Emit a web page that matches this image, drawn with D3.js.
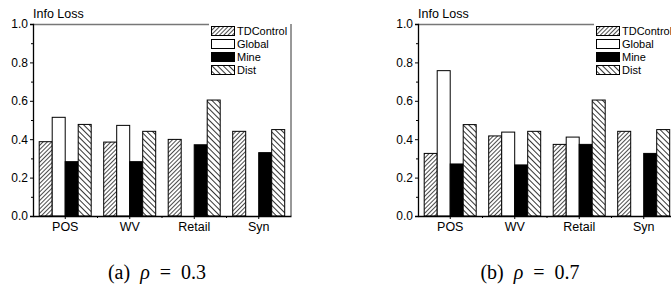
<!DOCTYPE html>
<html>
<head>
<meta charset="utf-8">
<script src="https://cdn.jsdelivr.net/npm/d3@7"></script>
<style>
  body { margin: 0; background: #fff; }
  text { font-family: "Liberation Sans", Arial, sans-serif; fill: #000; }
  .cap { font-family: "Liberation Serif", "DejaVu Serif", serif; }
</style>
</head>
<body>
<svg id="chart" width="671" height="288"></svg>
<script>
var categories = ["POS", "WV", "Retail", "Syn"];
var seriesNames = ["TDControl", "Global", "Mine", "Dist"];
var yTicks = [0.0, 0.2, 0.4, 0.6, 0.8, 1.0];

// panel (a) rho = 0.3
var tdA     = [0.387, 0.385, 0.399, 0.441];
var globalA = [0.514, 0.472, 0,     0];
var mineA   = [0.283, 0.283, 0.371, 0.330];
var distA   = [0.477, 0.441, 0.604, 0.450];

// panel (b) rho = 0.7
var tdB     = [0.326, 0.417, 0.373, 0.441];
var globalB = [0.757, 0.437, 0.411, 0];
var mineB   = [0.271, 0.266, 0.373, 0.326];
var distB   = [0.476, 0.441, 0.604, 0.450];

var svg = d3.select("#chart");

// hatch patterns
var defs = svg.append("defs");
var p1 = defs.append("pattern").attr("id", "hatchTD")
  .attr("patternUnits", "userSpaceOnUse").attr("width", 3).attr("height", 3)
  .attr("patternTransform", "rotate(45)");
p1.append("rect").attr("width", 3).attr("height", 3).attr("fill", "#fff");
p1.append("line").attr("x1", 0).attr("y1", 0).attr("x2", 0).attr("y2", 3)
  .attr("stroke", "#000").attr("stroke-width", 1.4);
var p2 = defs.append("pattern").attr("id", "hatchDist")
  .attr("patternUnits", "userSpaceOnUse").attr("width", 4).attr("height", 4)
  .attr("patternTransform", "rotate(-45)");
p2.append("rect").attr("width", 4).attr("height", 4).attr("fill", "#fff");
p2.append("line").attr("x1", 0).attr("y1", 0).attr("x2", 0).attr("y2", 4)
  .attr("stroke", "#000").attr("stroke-width", 1.6);

var fills = ["url(#hatchTD)", "#fff", "#000", "url(#hatchDist)"];

var W = 258, H = 192;

function drawPanel(left, values, tag, rho, capX) {
  var g = svg.append("g").attr("transform", "translate(" + left + ",24)");

  var x = d3.scaleBand().domain(categories).range([0, W]);
  var xs = d3.scaleBand().domain(seriesNames).range([6.2, x.bandwidth() - 6.3]);
  var y = d3.scaleLinear().domain([0, 1]).range([H, 0]);

  // frame: grey top line up to legend, black right line
  g.append("line").attr("x1", 0).attr("x2", 176).attr("y1", 0.5).attr("y2", 0.5)
    .attr("stroke", "#777").attr("stroke-width", 1.5);
  g.append("line").attr("x1", W).attr("x2", W).attr("y1", 0).attr("y2", H)
    .attr("stroke", "#333").attr("stroke-width", 1);

  // bars
  categories.forEach(function(c, ci) {
    seriesNames.forEach(function(s, si) {
      var v = values[si][ci];
      if (!v) return;
      g.append("rect")
        .attr("x", x(c) + xs(s))
        .attr("y", y(v))
        .attr("width", xs.bandwidth())
        .attr("height", H - y(v))
        .attr("fill", fills[si])
        .attr("stroke", "#000").attr("stroke-width", 1);
    });
  });

  // y axis with minor ticks
  var yAxis = d3.axisLeft(y).tickValues(yTicks).tickFormat(d3.format(".1f")).tickSize(3).tickPadding(2);
  var ya = g.append("g").call(yAxis);
  ya.select(".domain").attr("stroke", "#000").attr("stroke-width", 1.3);
  ya.selectAll("text").style("font-size", "12px");
  g.append("g").call(d3.axisLeft(y).tickValues([0.1, 0.3, 0.5, 0.7, 0.9]).tickSize(2).tickFormat(""))
    .select(".domain").remove();

  // x axis: labels at centres, minor ticks at boundaries
  var xa = g.append("g").attr("transform", "translate(0," + H + ")")
    .call(d3.axisBottom(x).tickSize(3).tickPadding(3).tickSizeOuter(0));
  xa.select(".domain").attr("stroke", "#000").attr("stroke-width", 1.3);
  xa.selectAll("text").style("font-size", "12.5px");
  xa.selectAll(".bnd").data(categories.slice(1)).enter().append("line")
    .attr("x1", function(d) { return x(d); }).attr("x2", function(d) { return x(d); })
    .attr("y1", 0).attr("y2", 2).attr("stroke", "#000");

  g.append("text").attr("x", 0).attr("y", -6).style("font-size", "12.5px").text("Info Loss");

  // legend
  var lg = g.append("g").attr("transform", "translate(178,2)");
  seriesNames.forEach(function(s, i) {
    lg.append("rect").attr("x", 0.5).attr("y", i * 13 + 0.5).attr("width", 23).attr("height", 9)
      .attr("fill", fills[i]).attr("stroke", "#000").attr("stroke-width", 1);
    lg.append("text").attr("x", 26).attr("y", i * 13 + 9).style("font-size", "11px").text(s);
  });

  var cap = svg.append("text").attr("class", "cap").attr("x", capX).attr("y", 279)
    .attr("text-anchor", "middle").style("font-size", "20px").attr("xml:space", "preserve");
  cap.append("tspan").text("(" + tag + ")  ");
  cap.append("tspan").style("font-style", "italic").text("\u03C1");
  cap.append("tspan").text("  =  " + rho);
}

drawPanel(33, [tdA, globalA, mineA, distA], "a", "0.3", 157);
drawPanel(418, [tdB, globalB, mineB, distB], "b", "0.7", 530);
</script>
</body>
</html>
